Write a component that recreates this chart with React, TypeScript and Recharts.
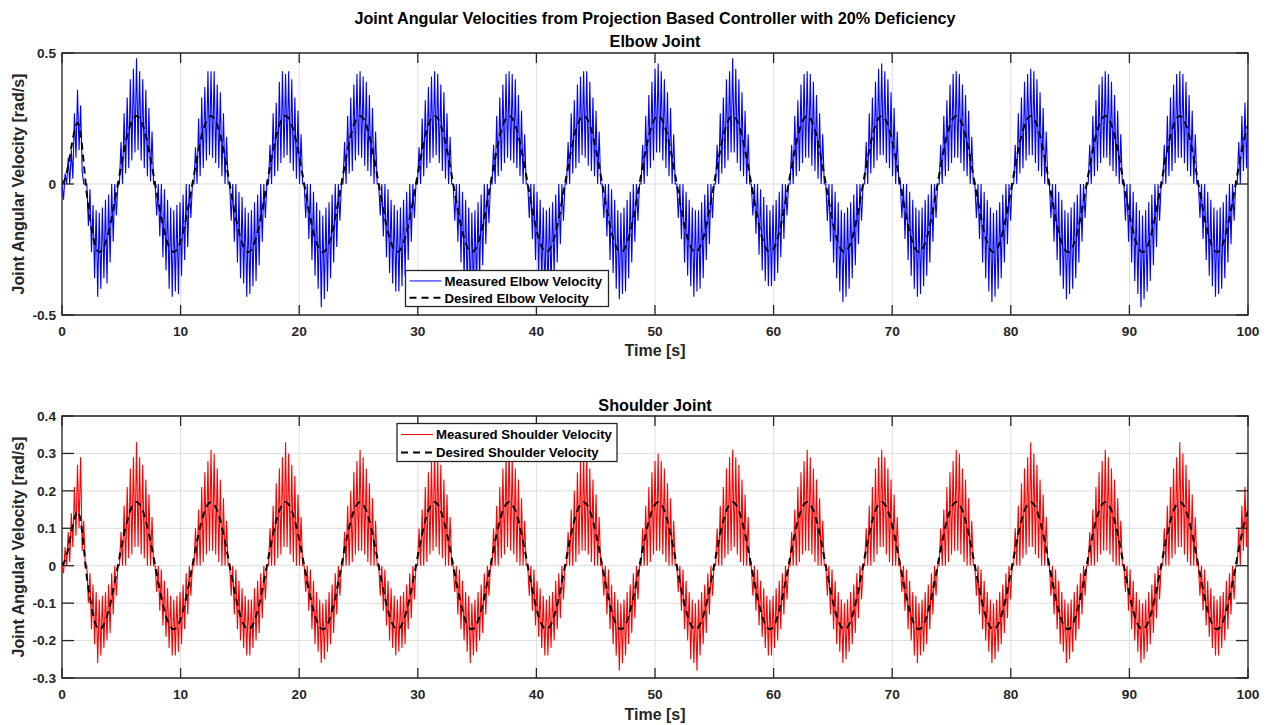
import React from "react";
import { LineChart, Line, XAxis, YAxis, CartesianGrid, ReferenceArea } from "recharts";

// sample spacing (s)
const measuredStep = 0.1309;
const desiredStep = 0.2618;

const timeTicks = [0, 10, 20, 30, 40, 50, 60, 70, 80, 90, 100];
const elbowTicks = [-0.5, 0, 0.5];
const shoulderTicks = [-0.3, -0.2, -0.1, 0, 0.1, 0.2, 0.3, 0.4];

// one row per 2*pi cycle
const elbowMeasured = [
  0, -0.06, 0.04, 0, 0.1, 0, 0.13, 0.02, 0.27, 0.1, 0.36, 0.13, 0.3, 0.05, 0, 0, 0, -0.16, -0.02, -0.26, -0.08, -0.36, -0.1, -0.43, -0.11, -0.4, -0.09, -0.36, -0.06, -0.38, -0.04, -0.3, 0, -0.22, 0, -0.12, 0, 0, 0.16, 0, 0.27, 0.04, 0.33, 0.06, 0.4, 0.09, 0.44, 0.12,
  0.48, 0.13, 0.43, 0.09, 0.4, 0.06, 0.36, 0.03, 0.29, 0.01, 0.2, 0, 0, -0.12, 0, -0.2, 0, -0.28, -0.02, -0.33, -0.06, -0.4, -0.09, -0.43, -0.1, -0.41, -0.08, -0.42, -0.07, -0.35, -0.04, -0.29, 0, -0.24, 0, -0.13, 0, 0, 0.14, 0, 0.25, 0.03, 0.33, 0.06, 0.37, 0.09, 0.43, 0.11,
  0.43, 0.1, 0.43, 0.08, 0.38, 0.06, 0.35, 0.03, 0.27, 0, 0.18, 0, 0, -0.14, 0, -0.22, 0, -0.3, -0.03, -0.36, -0.05, -0.38, -0.09, -0.43, -0.11, -0.42, -0.1, -0.39, -0.07, -0.37, -0.04, -0.31, 0, -0.22, 0, -0.13, 0, 0, 0.15, 0, 0.27, 0.03, 0.31, 0.05, 0.39, 0.08, 0.43, 0.1,
  0.42, 0.11, 0.43, 0.08, 0.4, 0.05, 0.33, 0.02, 0.28, 0, 0.19, 0, 0, -0.13, 0, -0.21, 0, -0.29, -0.03, -0.35, -0.07, -0.4, -0.1, -0.47, -0.12, -0.44, -0.09, -0.41, -0.07, -0.36, -0.04, -0.3, 0, -0.24, 0, -0.14, 0, 0, 0.16, 0, 0.26, 0.04, 0.33, 0.05, 0.38, 0.09, 0.42, 0.11,
  0.43, 0.1, 0.41, 0.07, 0.39, 0.05, 0.34, 0.03, 0.29, 0, 0.2, 0, 0, -0.12, 0, -0.2, 0, -0.28, -0.02, -0.34, -0.06, -0.38, -0.08, -0.41, -0.1, -0.41, -0.09, -0.39, -0.06, -0.35, -0.03, -0.29, 0, -0.22, 0, -0.13, 0, 0, 0.14, 0, 0.25, 0.03, 0.32, 0.06, 0.37, 0.08, 0.41, 0.1,
  0.43, 0.11, 0.42, 0.08, 0.38, 0.05, 0.35, 0.02, 0.27, 0, 0.18, 0, 0, -0.14, 0, -0.22, 0, -0.3, -0.03, -0.36, -0.06, -0.4, -0.09, -0.44, -0.11, -0.43, -0.1, -0.4, -0.07, -0.37, -0.04, -0.31, 0, -0.23, 0, -0.15, 0, 0, 0.15, 0, 0.26, 0.03, 0.33, 0.05, 0.38, 0.08, 0.42, 0.1,
  0.43, 0.09, 0.42, 0.08, 0.4, 0.06, 0.34, 0.03, 0.28, 0, 0.19, 0, 0, -0.13, 0, -0.21, 0, -0.29, -0.03, -0.35, -0.06, -0.39, -0.09, -0.43, -0.1, -0.42, -0.09, -0.4, -0.07, -0.35, -0.04, -0.3, 0, -0.23, 0, -0.14, 0, 0, 0.16, 0, 0.27, 0.04, 0.32, 0.06, 0.38, 0.08, 0.41, 0.11,
  0.43, 0.1, 0.43, 0.07, 0.39, 0.05, 0.33, 0.03, 0.28, 0, 0.2, 0, 0, -0.13, 0, -0.2, 0, -0.29, -0.02, -0.34, -0.06, -0.4, -0.1, -0.44, -0.11, -0.42, -0.09, -0.41, -0.06, -0.36, -0.03, -0.3, 0, -0.22, 0, -0.14, 0, 0, 0.15, 0, 0.26, 0.03, 0.34, 0.06, 0.39, 0.09, 0.44, 0.12,
  0.46, 0.12, 0.43, 0.09, 0.4, 0.06, 0.35, 0.03, 0.29, 0, 0.19, 0, 0, -0.13, 0, -0.21, 0, -0.3, -0.03, -0.35, -0.06, -0.39, -0.09, -0.43, -0.1, -0.41, -0.1, -0.4, -0.07, -0.36, -0.04, -0.29, 0, -0.23, 0, -0.13, 0, 0, 0.15, 0, 0.27, 0.04, 0.33, 0.06, 0.4, 0.09, 0.43, 0.12,
  0.48, 0.12, 0.44, 0.08, 0.4, 0.05, 0.35, 0.03, 0.28, 0, 0.19, 0, 0, -0.12, 0, -0.19, 0, -0.27, -0.02, -0.33, -0.05, -0.37, -0.08, -0.39, -0.1, -0.39, -0.08, -0.37, -0.06, -0.34, -0.03, -0.28, 0, -0.21, 0, -0.12, 0, 0, 0.15, 0, 0.26, 0.03, 0.32, 0.05, 0.38, 0.08, 0.42, 0.1,
  0.43, 0.1, 0.42, 0.07, 0.39, 0.05, 0.34, 0.02, 0.27, 0, 0.19, 0, 0, -0.14, 0, -0.22, 0, -0.3, -0.03, -0.36, -0.07, -0.41, -0.1, -0.45, -0.11, -0.43, -0.09, -0.4, -0.07, -0.36, -0.04, -0.31, 0, -0.23, 0, -0.14, 0, 0, 0.16, 0, 0.27, 0.04, 0.33, 0.06, 0.39, 0.09, 0.44, 0.11,
  0.46, 0.11, 0.43, 0.08, 0.4, 0.06, 0.35, 0.03, 0.29, 0, 0.2, 0, 0, -0.13, 0, -0.21, 0, -0.29, -0.03, -0.35, -0.06, -0.4, -0.09, -0.43, -0.1, -0.42, -0.09, -0.39, -0.06, -0.35, -0.04, -0.3, 0, -0.22, 0, -0.13, 0, 0, 0.15, 0, 0.26, 0.03, 0.32, 0.05, 0.38, 0.08, 0.42, 0.1,
  0.43, 0.1, 0.42, 0.08, 0.38, 0.05, 0.34, 0.03, 0.28, 0, 0.18, 0, 0, -0.13, 0, -0.21, 0, -0.3, -0.03, -0.36, -0.06, -0.41, -0.09, -0.45, -0.11, -0.43, -0.1, -0.4, -0.07, -0.36, -0.04, -0.3, 0, -0.23, 0, -0.14, 0, 0, 0.15, 0, 0.27, 0.04, 0.33, 0.06, 0.39, 0.09, 0.42, 0.11,
  0.44, 0.11, 0.43, 0.08, 0.4, 0.05, 0.35, 0.03, 0.29, 0, 0.2, 0, 0, -0.13, 0, -0.22, 0, -0.29, -0.03, -0.35, -0.06, -0.4, -0.1, -0.44, -0.11, -0.42, -0.09, -0.4, -0.07, -0.36, -0.04, -0.3, 0, -0.22, 0, -0.13, 0, 0, 0.15, 0, 0.26, 0.03, 0.32, 0.05, 0.38, 0.08, 0.41, 0.1,
  0.43, 0.1, 0.42, 0.07, 0.39, 0.05, 0.34, 0.03, 0.28, 0, 0.19, 0, 0, -0.14, 0, -0.22, 0, -0.3, -0.03, -0.37, -0.07, -0.42, -0.1, -0.47, -0.12, -0.44, -0.1, -0.41, -0.07, -0.37, -0.04, -0.31, 0, -0.24, 0, -0.14, 0, 0, 0.15, 0, 0.26, 0.03, 0.33, 0.05, 0.38, 0.08, 0.42, 0.1,
  0.43, 0.1, 0.42, 0.08, 0.39, 0.05, 0.34, 0.03, 0.28, 0, 0.19, 0, 0, -0.13, 0, -0.21, 0, -0.29, -0.03, -0.35, -0.06, -0.39, -0.09, -0.43, -0.1, -0.42, -0.09, -0.4, -0.07, -0.36, -0.04, -0.3, 0, -0.23, 0, -0.14, 0, 0, 0.16, 0, 0.26, 0.05, 0.31, 0.06, 0.32,
];

const elbowDesired = [
  0, 0.02, 0.07, 0.14, 0.2, 0.233, 0.19, 0.08, -0.04, -0.13, -0.2, -0.245, -0.26, -0.251, -0.225, -0.184, -0.13, -0.067, 0, 0.067, 0.13, 0.184, 0.225, 0.251,
  0.26, 0.251, 0.225, 0.184, 0.13, 0.067, 0, -0.067, -0.13, -0.184, -0.225, -0.251, -0.26, -0.251, -0.225, -0.184, -0.13, -0.067, 0, 0.067, 0.13, 0.184, 0.225, 0.251,
  0.26, 0.251, 0.225, 0.184, 0.13, 0.067, 0, -0.067, -0.13, -0.184, -0.225, -0.251, -0.26, -0.251, -0.225, -0.184, -0.13, -0.067, 0, 0.067, 0.13, 0.184, 0.225, 0.251,
  0.26, 0.251, 0.225, 0.184, 0.13, 0.067, 0, -0.067, -0.13, -0.184, -0.225, -0.251, -0.26, -0.251, -0.225, -0.184, -0.13, -0.067, 0, 0.067, 0.13, 0.184, 0.225, 0.251,
  0.26, 0.251, 0.225, 0.184, 0.13, 0.067, 0, -0.067, -0.13, -0.184, -0.225, -0.251, -0.26, -0.251, -0.225, -0.184, -0.13, -0.067, 0, 0.067, 0.13, 0.184, 0.225, 0.251,
  0.26, 0.251, 0.225, 0.184, 0.13, 0.067, 0, -0.067, -0.13, -0.184, -0.225, -0.251, -0.26, -0.251, -0.225, -0.184, -0.13, -0.067, 0, 0.067, 0.13, 0.184, 0.225, 0.251,
  0.26, 0.251, 0.225, 0.184, 0.13, 0.067, 0, -0.067, -0.13, -0.184, -0.225, -0.251, -0.26, -0.251, -0.225, -0.184, -0.13, -0.067, 0, 0.067, 0.13, 0.184, 0.225, 0.251,
  0.26, 0.251, 0.225, 0.184, 0.13, 0.067, 0, -0.067, -0.13, -0.184, -0.225, -0.251, -0.26, -0.251, -0.225, -0.184, -0.13, -0.067, 0, 0.067, 0.13, 0.184, 0.225, 0.251,
  0.26, 0.251, 0.225, 0.184, 0.13, 0.067, 0, -0.067, -0.13, -0.184, -0.225, -0.251, -0.26, -0.251, -0.225, -0.184, -0.13, -0.067, 0, 0.067, 0.13, 0.184, 0.225, 0.251,
  0.26, 0.251, 0.225, 0.184, 0.13, 0.067, 0, -0.067, -0.13, -0.184, -0.225, -0.251, -0.26, -0.251, -0.225, -0.184, -0.13, -0.067, 0, 0.067, 0.13, 0.184, 0.225, 0.251,
  0.26, 0.251, 0.225, 0.184, 0.13, 0.067, 0, -0.067, -0.13, -0.184, -0.225, -0.251, -0.26, -0.251, -0.225, -0.184, -0.13, -0.067, 0, 0.067, 0.13, 0.184, 0.225, 0.251,
  0.26, 0.251, 0.225, 0.184, 0.13, 0.067, 0, -0.067, -0.13, -0.184, -0.225, -0.251, -0.26, -0.251, -0.225, -0.184, -0.13, -0.067, 0, 0.067, 0.13, 0.184, 0.225, 0.251,
  0.26, 0.251, 0.225, 0.184, 0.13, 0.067, 0, -0.067, -0.13, -0.184, -0.225, -0.251, -0.26, -0.251, -0.225, -0.184, -0.13, -0.067, 0, 0.067, 0.13, 0.184, 0.225, 0.251,
  0.26, 0.251, 0.225, 0.184, 0.13, 0.067, 0, -0.067, -0.13, -0.184, -0.225, -0.251, -0.26, -0.251, -0.225, -0.184, -0.13, -0.067, 0, 0.067, 0.13, 0.184, 0.225, 0.251,
  0.26, 0.251, 0.225, 0.184, 0.13, 0.067, 0, -0.067, -0.13, -0.184, -0.225, -0.251, -0.26, -0.251, -0.225, -0.184, -0.13, -0.067, 0, 0.067, 0.13, 0.184, 0.225, 0.251,
  0.26, 0.251, 0.225, 0.184, 0.13, 0.067, 0, -0.067, -0.13, -0.184, -0.225, -0.251, -0.26, -0.251, -0.225, -0.184, -0.13, -0.067, 0, 0.067, 0.13, 0.184, 0.225,
];

const shoulderMeasured = [
  0, -0.02, 0.05, 0, 0.09, 0.01, 0.14, 0.05, 0.21, 0.08, 0.27, 0.1, 0.29, 0.04, 0.12, 0, 0, -0.1, -0.02, -0.17, -0.05, -0.21, -0.07, -0.26, -0.09, -0.24, -0.08, -0.22, -0.07, -0.2, -0.05, -0.18, -0.02, -0.13, 0, -0.08, 0, 0, 0.09, 0, 0.16, 0, 0.21, 0.02, 0.26, 0.03, 0.29, 0.05,
  0.33, 0.05, 0.29, 0.03, 0.27, 0.02, 0.23, 0, 0.19, 0, 0.13, 0, 0, -0.07, 0, -0.12, -0.01, -0.16, -0.04, -0.19, -0.06, -0.22, -0.08, -0.24, -0.09, -0.24, -0.08, -0.23, -0.07, -0.21, -0.05, -0.17, -0.02, -0.13, 0, -0.08, 0, 0, 0.1, 0, 0.15, 0, 0.21, 0.01, 0.25, 0.03, 0.28, 0.04,
  0.31, 0.04, 0.3, 0.03, 0.26, 0.01, 0.23, 0, 0.18, 0, 0.12, 0, 0, -0.08, 0, -0.13, -0.01, -0.17, -0.04, -0.2, -0.06, -0.22, -0.08, -0.24, -0.09, -0.24, -0.09, -0.22, -0.06, -0.2, -0.04, -0.18, -0.02, -0.14, 0, -0.09, 0, 0, 0.1, 0, 0.16, 0, 0.22, 0.02, 0.26, 0.03, 0.29, 0.05,
  0.33, 0.05, 0.3, 0.03, 0.27, 0.01, 0.24, 0, 0.19, 0, 0.13, 0, 0, -0.07, 0, -0.12, -0.01, -0.17, -0.04, -0.21, -0.07, -0.23, -0.09, -0.26, -0.1, -0.25, -0.09, -0.23, -0.07, -0.21, -0.05, -0.18, -0.02, -0.13, 0, -0.08, 0, 0, 0.09, 0, 0.16, 0, 0.2, 0.01, 0.25, 0.03, 0.28, 0.04,
  0.31, 0.04, 0.29, 0.03, 0.26, 0.01, 0.22, 0, 0.18, 0, 0.12, 0, 0, -0.08, 0, -0.12, -0.01, -0.16, -0.04, -0.2, -0.06, -0.22, -0.08, -0.24, -0.09, -0.23, -0.08, -0.22, -0.07, -0.21, -0.05, -0.17, -0.02, -0.14, 0, -0.09, 0, 0, 0.1, 0, 0.15, 0, 0.21, 0.01, 0.25, 0.03, 0.28, 0.04,
  0.31, 0.05, 0.29, 0.03, 0.27, 0.02, 0.23, 0, 0.19, 0, 0.13, 0, 0, -0.07, 0, -0.13, -0.01, -0.17, -0.04, -0.2, -0.07, -0.23, -0.08, -0.26, -0.1, -0.24, -0.09, -0.23, -0.07, -0.2, -0.05, -0.18, -0.02, -0.13, 0, -0.08, 0, 0, 0.1, 0, 0.16, 0, 0.21, 0.02, 0.26, 0.03, 0.29, 0.05,
  0.32, 0.04, 0.29, 0.03, 0.26, 0.01, 0.23, 0, 0.18, 0, 0.12, 0, 0, -0.08, 0, -0.12, -0.01, -0.16, -0.04, -0.19, -0.06, -0.22, -0.08, -0.24, -0.09, -0.24, -0.08, -0.22, -0.07, -0.2, -0.04, -0.17, -0.02, -0.14, 0, -0.09, 0, 0, 0.09, 0, 0.15, 0, 0.2, 0.01, 0.25, 0.03, 0.28, 0.04,
  0.3, 0.04, 0.29, 0.03, 0.26, 0.01, 0.23, 0, 0.19, 0, 0.13, 0, 0, -0.08, 0, -0.13, -0.01, -0.17, -0.05, -0.21, -0.07, -0.24, -0.09, -0.28, -0.1, -0.26, -0.09, -0.24, -0.07, -0.21, -0.05, -0.18, -0.02, -0.14, 0, -0.09, 0, 0, 0.1, 0, 0.16, 0, 0.21, 0.01, 0.25, 0.03, 0.28, 0.04,
  0.3, 0.04, 0.28, 0.03, 0.26, 0.01, 0.22, 0, 0.18, 0, 0.12, 0, 0, -0.07, 0, -0.12, -0.01, -0.17, -0.04, -0.2, -0.07, -0.25, -0.09, -0.26, -0.1, -0.28, -0.09, -0.24, -0.07, -0.21, -0.05, -0.18, -0.02, -0.13, 0, -0.08, 0, 0, 0.1, 0, 0.16, 0, 0.21, 0.02, 0.26, 0.03, 0.29, 0.04,
  0.31, 0.05, 0.29, 0.03, 0.27, 0.01, 0.23, 0, 0.19, 0, 0.13, 0, 0, -0.08, 0, -0.12, -0.01, -0.16, -0.04, -0.19, -0.06, -0.22, -0.08, -0.24, -0.09, -0.24, -0.08, -0.22, -0.06, -0.2, -0.04, -0.17, -0.02, -0.13, 0, -0.09, 0, 0, 0.09, 0, 0.15, 0, 0.21, 0.01, 0.25, 0.03, 0.28, 0.04,
  0.31, 0.04, 0.29, 0.03, 0.26, 0.01, 0.23, 0, 0.18, 0, 0.12, 0, 0, -0.08, 0, -0.13, -0.01, -0.17, -0.04, -0.21, -0.07, -0.23, -0.09, -0.26, -0.1, -0.25, -0.09, -0.23, -0.07, -0.21, -0.05, -0.18, -0.02, -0.14, 0, -0.09, 0, 0, 0.1, 0, 0.16, 0, 0.21, 0.01, 0.26, 0.03, 0.29, 0.05,
  0.31, 0.05, 0.29, 0.03, 0.26, 0.01, 0.23, 0, 0.19, 0, 0.13, 0, 0, -0.07, 0, -0.12, -0.01, -0.17, -0.04, -0.2, -0.07, -0.24, -0.08, -0.26, -0.1, -0.24, -0.09, -0.23, -0.07, -0.21, -0.05, -0.17, -0.02, -0.13, 0, -0.08, 0, 0, 0.1, 0, 0.15, 0, 0.21, 0.01, 0.25, 0.03, 0.28, 0.04,
  0.31, 0.04, 0.3, 0.03, 0.26, 0.01, 0.23, 0, 0.18, 0, 0.12, 0, 0, -0.08, 0, -0.13, -0.01, -0.17, -0.04, -0.2, -0.07, -0.23, -0.09, -0.26, -0.1, -0.25, -0.09, -0.23, -0.07, -0.21, -0.05, -0.18, -0.02, -0.14, 0, -0.09, 0, 0, 0.1, 0, 0.16, 0, 0.22, 0.02, 0.26, 0.03, 0.29, 0.05,
  0.33, 0.05, 0.3, 0.03, 0.27, 0.02, 0.23, 0, 0.19, 0, 0.13, 0, 0, -0.08, 0, -0.13, -0.01, -0.17, -0.04, -0.21, -0.07, -0.23, -0.09, -0.26, -0.1, -0.25, -0.09, -0.23, -0.07, -0.2, -0.05, -0.17, -0.02, -0.13, 0, -0.08, 0, 0, 0.09, 0, 0.15, 0, 0.21, 0.01, 0.25, 0.03, 0.28, 0.04,
  0.31, 0.04, 0.29, 0.03, 0.26, 0.01, 0.23, 0, 0.18, 0, 0.12, 0, 0, -0.07, 0, -0.12, -0.01, -0.17, -0.04, -0.2, -0.07, -0.23, -0.09, -0.26, -0.1, -0.25, -0.09, -0.23, -0.07, -0.21, -0.05, -0.18, -0.02, -0.14, 0, -0.09, 0, 0, 0.1, 0, 0.16, 0, 0.21, 0.02, 0.26, 0.03, 0.29, 0.05,
  0.33, 0.05, 0.3, 0.03, 0.27, 0.01, 0.23, 0, 0.19, 0, 0.13, 0, 0, -0.08, 0, -0.12, -0.01, -0.16, -0.04, -0.19, -0.06, -0.22, -0.08, -0.24, -0.09, -0.24, -0.08, -0.22, -0.07, -0.2, -0.04, -0.17, -0.02, -0.13, 0, -0.09, 0, 0, 0.1, 0, 0.16, 0.04, 0.21, 0.05, 0.24,
];

const shoulderDesired = [
  0, 0.015, 0.045, 0.09, 0.125, 0.145, 0.12, 0.05, -0.03, -0.085, -0.13, -0.16, -0.17, -0.164, -0.147, -0.12, -0.085, -0.044, 0, 0.044, 0.085, 0.12, 0.147, 0.164,
  0.17, 0.164, 0.147, 0.12, 0.085, 0.044, 0, -0.044, -0.085, -0.12, -0.147, -0.164, -0.17, -0.164, -0.147, -0.12, -0.085, -0.044, 0, 0.044, 0.085, 0.12, 0.147, 0.164,
  0.17, 0.164, 0.147, 0.12, 0.085, 0.044, 0, -0.044, -0.085, -0.12, -0.147, -0.164, -0.17, -0.164, -0.147, -0.12, -0.085, -0.044, 0, 0.044, 0.085, 0.12, 0.147, 0.164,
  0.17, 0.164, 0.147, 0.12, 0.085, 0.044, 0, -0.044, -0.085, -0.12, -0.147, -0.164, -0.17, -0.164, -0.147, -0.12, -0.085, -0.044, 0, 0.044, 0.085, 0.12, 0.147, 0.164,
  0.17, 0.164, 0.147, 0.12, 0.085, 0.044, 0, -0.044, -0.085, -0.12, -0.147, -0.164, -0.17, -0.164, -0.147, -0.12, -0.085, -0.044, 0, 0.044, 0.085, 0.12, 0.147, 0.164,
  0.17, 0.164, 0.147, 0.12, 0.085, 0.044, 0, -0.044, -0.085, -0.12, -0.147, -0.164, -0.17, -0.164, -0.147, -0.12, -0.085, -0.044, 0, 0.044, 0.085, 0.12, 0.147, 0.164,
  0.17, 0.164, 0.147, 0.12, 0.085, 0.044, 0, -0.044, -0.085, -0.12, -0.147, -0.164, -0.17, -0.164, -0.147, -0.12, -0.085, -0.044, 0, 0.044, 0.085, 0.12, 0.147, 0.164,
  0.17, 0.164, 0.147, 0.12, 0.085, 0.044, 0, -0.044, -0.085, -0.12, -0.147, -0.164, -0.17, -0.164, -0.147, -0.12, -0.085, -0.044, 0, 0.044, 0.085, 0.12, 0.147, 0.164,
  0.17, 0.164, 0.147, 0.12, 0.085, 0.044, 0, -0.044, -0.085, -0.12, -0.147, -0.164, -0.17, -0.164, -0.147, -0.12, -0.085, -0.044, 0, 0.044, 0.085, 0.12, 0.147, 0.164,
  0.17, 0.164, 0.147, 0.12, 0.085, 0.044, 0, -0.044, -0.085, -0.12, -0.147, -0.164, -0.17, -0.164, -0.147, -0.12, -0.085, -0.044, 0, 0.044, 0.085, 0.12, 0.147, 0.164,
  0.17, 0.164, 0.147, 0.12, 0.085, 0.044, 0, -0.044, -0.085, -0.12, -0.147, -0.164, -0.17, -0.164, -0.147, -0.12, -0.085, -0.044, 0, 0.044, 0.085, 0.12, 0.147, 0.164,
  0.17, 0.164, 0.147, 0.12, 0.085, 0.044, 0, -0.044, -0.085, -0.12, -0.147, -0.164, -0.17, -0.164, -0.147, -0.12, -0.085, -0.044, 0, 0.044, 0.085, 0.12, 0.147, 0.164,
  0.17, 0.164, 0.147, 0.12, 0.085, 0.044, 0, -0.044, -0.085, -0.12, -0.147, -0.164, -0.17, -0.164, -0.147, -0.12, -0.085, -0.044, 0, 0.044, 0.085, 0.12, 0.147, 0.164,
  0.17, 0.164, 0.147, 0.12, 0.085, 0.044, 0, -0.044, -0.085, -0.12, -0.147, -0.164, -0.17, -0.164, -0.147, -0.12, -0.085, -0.044, 0, 0.044, 0.085, 0.12, 0.147, 0.164,
  0.17, 0.164, 0.147, 0.12, 0.085, 0.044, 0, -0.044, -0.085, -0.12, -0.147, -0.164, -0.17, -0.164, -0.147, -0.12, -0.085, -0.044, 0, 0.044, 0.085, 0.12, 0.147, 0.164,
  0.17, 0.164, 0.147, 0.12, 0.085, 0.044, 0, -0.044, -0.085, -0.12, -0.147, -0.164, -0.17, -0.164, -0.147, -0.12, -0.085, -0.044, 0, 0.044, 0.085, 0.12, 0.147,
];

const FONT = "'Liberation Sans', Arial, Helvetica, sans-serif";
const AXIS = "#262626";
const PLOT_W = 1186;
const PLOT_H = 262;
const X_TICK_LEN = 10;
const Y_TICK_LEN = 12;
const TICK_FONT = 13.7;

const toSeries = (values: number[], step: number) =>
  values.map((v, i) => ({ t: +(i * step).toFixed(4), v }));

// bottom tick: label plus inward tick marks on bottom and top edges
function TimeTick(props: any) {
  const { x, y, payload } = props;
  const axisY = y - 11; // tickMargin
  return (
    <g>
      <line x1={x} x2={x} y1={axisY} y2={axisY - X_TICK_LEN} stroke={AXIS} strokeWidth={1.3} />
      <line x1={x} x2={x} y1={axisY - PLOT_H} y2={axisY - PLOT_H + X_TICK_LEN} stroke={AXIS} strokeWidth={1.3} />
      <text x={x} y={y} dy="0.71em" textAnchor="middle" fill={AXIS} fontSize={TICK_FONT} fontWeight="bold" fontFamily={FONT}>
        {payload.value}
      </text>
    </g>
  );
}

// left tick: label plus inward tick marks on left and right edges
function ValueTick(props: any) {
  const { x, y, payload } = props;
  const axisX = x + 6; // tickMargin
  return (
    <g>
      <line x1={axisX} x2={axisX + Y_TICK_LEN} y1={y} y2={y} stroke={AXIS} strokeWidth={1.3} />
      <line x1={axisX + PLOT_W - Y_TICK_LEN} x2={axisX + PLOT_W} y1={y} y2={y} stroke={AXIS} strokeWidth={1.3} />
      <text x={x} y={y} dy="0.355em" textAnchor="end" fill={AXIS} fontSize={TICK_FONT} fontWeight="bold" fontFamily={FONT}>
        {payload.value}
      </text>
    </g>
  );
}

type PanelProps = {
  top: number;
  measured: number[];
  desired: number[];
  color: string;
  domain: [number, number];
  ticks: number[];
};

function Panel({ top, measured, desired, color, domain, ticks }: PanelProps) {
  return (
    <div style={{ position: "absolute", left: 0, top }}>
      <LineChart width={1270} height={53 + PLOT_H + 55} margin={{ top: 53, right: 1270 - 62 - PLOT_W, bottom: 0, left: 0 }}>
        <CartesianGrid stroke="#dedede" strokeWidth={1} />
        <XAxis
          dataKey="t"
          type="number"
          domain={[0, 100]}
          ticks={timeTicks}
          interval={0}
          allowDataOverflow
          height={55}
          tickSize={0}
          tickMargin={11}
          axisLine={false}
          tickLine={false}
          tick={<TimeTick />}
        />
        <YAxis
          type="number"
          domain={domain}
          ticks={ticks}
          interval={0}
          allowDataOverflow
          width={62}
          tickSize={0}
          tickMargin={6}
          axisLine={false}
          tickLine={false}
          tick={<ValueTick />}
        />
        <Line
          data={toSeries(measured, measuredStep)}
          dataKey="v"
          type="linear"
          stroke={color}
          strokeWidth={1.1}
          dot={false}
          activeDot={false}
          isAnimationActive={false}
        />
        <Line
          data={toSeries(desired, desiredStep)}
          dataKey="v"
          type="monotone"
          stroke="#000000"
          strokeWidth={2}
          strokeDasharray="7 5"
          dot={false}
          activeDot={false}
          isAnimationActive={false}
        />
        {/* axes box */}
        <ReferenceArea
          x1={0}
          x2={100}
          y1={domain[0]}
          y2={domain[1]}
          fill="none"
          fillOpacity={0}
          stroke={AXIS}
          strokeWidth={1.3}
          strokeOpacity={1}
          ifOverflow="visible"
        />
      </LineChart>
    </div>
  );
}

function LegendBox({ x, y, w, h, color, rows }: { x: number; y: number; w: number; h: number; color: string; rows: string[] }) {
  const row1 = y + h * 0.29;
  const row2 = y + h * 0.76;
  return (
    <g>
      <rect x={x} y={y} width={w} height={h} fill="#ffffff" stroke={AXIS} strokeWidth={1.3} />
      <line x1={x + 4} x2={x + 36} y1={row1} y2={row1} stroke={color} strokeWidth={1} />
      <line x1={x + 4} x2={x + 36} y1={row2} y2={row2} stroke="#000" strokeWidth={2} strokeDasharray="7 5" />
      <text x={x + 39} y={row1 + 4.7} fontSize={13.2} fontWeight="bold" fill="#000" fontFamily={FONT}>{rows[0]}</text>
      <text x={x + 39} y={row2 + 4.7} fontSize={13.2} fontWeight="bold" fill="#000" fontFamily={FONT}>{rows[1]}</text>
    </g>
  );
}

export default function App() {
  const label = { fontSize: 16, fontWeight: "bold", fill: AXIS, fontFamily: FONT } as const;
  const title = { fontSize: 16.2, fontWeight: "bold", fill: "#000", fontFamily: FONT, textAnchor: "middle" } as const;
  return (
    <div style={{ position: "absolute", left: 0, top: 0, width: 1270, height: 725, background: "#fff", overflow: "hidden" }}>
      <Panel top={0} measured={elbowMeasured} desired={elbowDesired} color="#0000ff" domain={[-0.5, 0.5]} ticks={elbowTicks} />
      <Panel top={363} measured={shoulderMeasured} desired={shoulderDesired} color="#ff0000" domain={[-0.3, 0.4]} ticks={shoulderTicks} />
      <svg width={1270} height={725} style={{ position: "absolute", left: 0, top: 0, pointerEvents: "none" }}>
        <text x={655} y={24} {...title}>Joint Angular Velocities from Projection Based Controller with 20% Deficiency</text>
        <text x={655} y={47} {...title}>Elbow Joint</text>
        <text x={655} y={411} {...title}>Shoulder Joint</text>
        <text x={655} y={356} {...label} textAnchor="middle">Time [s]</text>
        <text x={655} y={720} {...label} textAnchor="middle">Time [s]</text>
        <text x={24} y={184} {...label} textAnchor="middle" transform="rotate(-90 24 184)">Joint Angular Velocity [rad/s]</text>
        <text x={24} y={547} {...label} textAnchor="middle" transform="rotate(-90 24 547)">Joint Angular Velocity [rad/s]</text>
        <LegendBox x={405.5} y={270.5} w={203} h={36} color="#0000ff" rows={["Measured Elbow Velocity", "Desired Elbow Velocity"]} />
        <LegendBox x={397} y={423.5} w={220} h={38} color="#ff0000" rows={["Measured Shoulder Velocity", "Desired Shoulder Velocity"]} />
      </svg>
    </div>
  );
}
